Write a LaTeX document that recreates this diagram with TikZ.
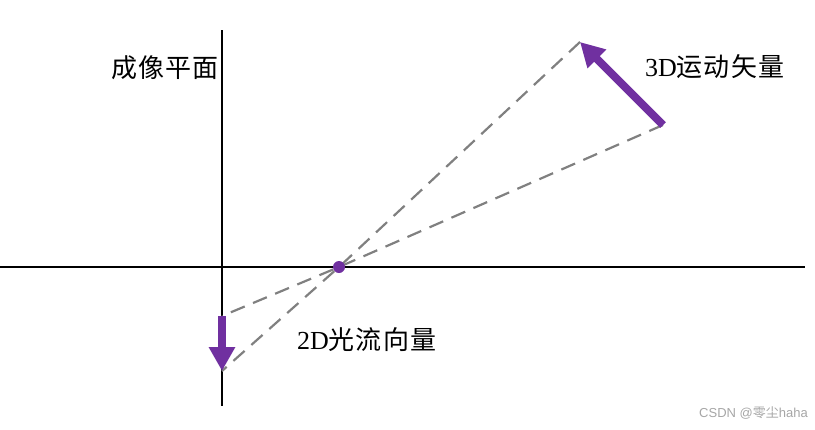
\documentclass[tikz,border=0pt]{standalone}
\usepackage{fontspec}
\setmainfont{Liberation Serif}
\newfontfamily\cjk[LetterSpace=4]{Noto Sans CJK SC}
\newfontfamily\cjkplain{Noto Sans CJK SC}
\newfontfamily\wmsans{Liberation Sans}
\usetikzlibrary{arrows.meta}
\definecolor{vpurple}{RGB}{112,48,160}
\definecolor{dashgray}{RGB}{128,128,128}
\begin{document}
\begin{tikzpicture}[x=1pt,y=-1pt,
  axis/.style={line width=2.8pt,black},
  ray/.style={line width=2.2pt,dashgray,dash pattern=on 15pt off 9pt},
  vec/.style={line width=8pt,vpurple,-{Triangle[length=24pt,width=25pt]}},
  lbl/.style={font=\fontsize{26}{28}\selectfont,inner sep=0pt,anchor=west}]
\useasboundingbox (0,0) rectangle (815,429);
% axes
\coordinate (hl) at (0,267);
\coordinate (hr) at (805,267);
\coordinate (vt) at (222,30);
\coordinate (vb) at (222,406);
\draw[axis] (hl) -- (hr);
\draw[axis] (vt) -- (vb);
% key points
\coordinate (c) at (339,267);
\coordinate (t3) at (580,42);
\coordinate (s3) at (663,125);
\coordinate (s2) at (222,316);
\coordinate (t2) at (222,371);
% rays
\draw[ray] (t3) -- (c) -- (t2);
\draw[ray] (s3) -- (c) -- (s2);
% vectors
\draw[vec] (s3) -- (t3);
\draw[vec] (s2) -- (t2);
\node[circle,fill=vpurple,minimum size=12pt,inner sep=0pt] (dot) at (c) {};
% labels
\node[lbl] (l1) at (111,68) {\cjk 成像平面};
\node[lbl] (l2) at (645,67) {3D{\cjk 运动矢量}};
\node[lbl] (l3) at (297,340) {2D{\cjk 光流向量}};
\node[font=\fontsize{13}{14}\selectfont,text=gray!70,inner sep=0pt,anchor=east] (wm) at (808,413) {\wmsans CSDN @{\cjkplain 零尘}haha};
\end{tikzpicture}
\end{document}
